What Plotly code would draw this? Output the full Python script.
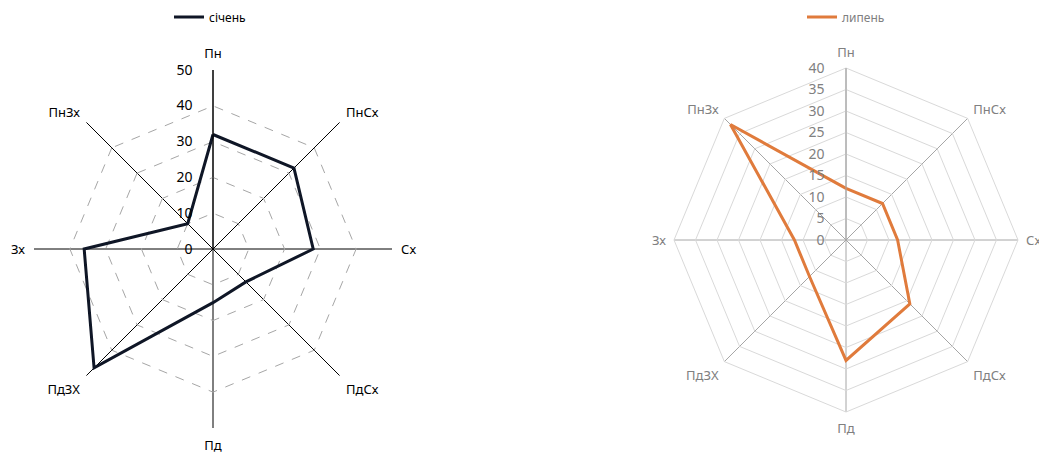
import plotly.graph_objects as go

directions = ["Пн", "ПнСх", "Сх", "ПдСх", "Пд", "ПдЗХ", "Зх", "ПнЗх"]
january = [32, 32, 28, 13, 15, 47, 36, 10]
july = [12, 12, 12, 21, 28, 12, 12, 38]
jan_ticks = [0, 10, 20, 30, 40, 50]
jul_ticks = [0, 5, 10, 15, 20, 25, 30, 35, 40]

W, H = 1039, 454
FONT = "Noto Sans"


def closed(values):
    return values + values[:1]


fig = go.Figure()
fig.add_trace(go.Scatterpolar(
    r=closed(january), theta=closed(directions), mode="lines",
    name="січень", line=dict(color="#0f1626", width=3),
    subplot="polar", legend="legend", hoverinfo="skip",
))
fig.add_trace(go.Scatterpolar(
    r=closed(july), theta=closed(directions), mode="lines",
    name="липень", line=dict(color="#e07b3c", width=3),
    subplot="polar2", legend="legend2", hoverinfo="skip",
))


def dom_x(cx, r):
    return [(cx - r) / W, (cx + r) / W]


def dom_y(cy, r):
    return [(H - cy - r) / H, (H - cy + r) / H]


fig.update_layout(
    width=W, height=H,
    margin=dict(l=0, r=0, t=0, b=0),
    paper_bgcolor="white",
    font=dict(family=FONT, size=12, color="#000000"),
    polar=dict(
        domain=dict(x=dom_x(213, 179), y=dom_y(249, 179)),
        bgcolor="white",
        gridshape="linear",
        radialaxis=dict(
            # tiny headroom so the outer dashed ring at 50 is drawn
            range=[0, 50.02], tickvals=jan_ticks, angle=90, side="counterclockwise",
            tickangle=90,
            showline=True, linecolor="#000000", linewidth=1,
            gridcolor="#a6a6a6", griddash="dash", gridwidth=1,
            ticks="outside", ticklen=15, tickcolor="rgba(0,0,0,0)",
            tickfont=dict(size=14, color="#000000", family=FONT),
        ),
        angularaxis=dict(
            direction="clockwise", rotation=90,
            showline=False, gridcolor="#000000", gridwidth=1,
            ticks="outside", ticklen=6, tickcolor="rgba(0,0,0,0)",
            tickfont=dict(size=13, color="#000000", family=FONT),
        ),
    ),
    polar2=dict(
        domain=dict(x=dom_x(846, 172), y=dom_y(240, 172)),
        bgcolor="white",
        gridshape="linear",
        radialaxis=dict(
            range=[0, 40], tickvals=jul_ticks, angle=90, side="counterclockwise",
            tickangle=90,
            showline=True, linecolor="#a6a6a6", linewidth=1,
            gridcolor="#d9d9d9", gridwidth=1,
            ticks="outside", ticklen=16, tickcolor="rgba(0,0,0,0)",
            tickfont=dict(size=14, color="#808080", family=FONT),
        ),
        angularaxis=dict(
            direction="clockwise", rotation=90,
            showline=True, linecolor="#d9d9d9", gridcolor="#a6a6a6", gridwidth=1,
            ticks="outside", ticklen=5, tickcolor="rgba(0,0,0,0)",
            tickfont=dict(size=13, color="#808080", family=FONT),
        ),
    ),
    legend=dict(
        x=210 / W, y=1 - 17 / H, xanchor="center", yanchor="middle",
        orientation="h", bgcolor="rgba(0,0,0,0)",
        font=dict(size=12, color="#000000", family=FONT),
        itemwidth=30,
    ),
    legend2=dict(
        x=846 / W, y=1 - 17 / H, xanchor="center", yanchor="middle",
        orientation="h", bgcolor="rgba(0,0,0,0)",
        font=dict(size=12, color="#808080", family=FONT),
        itemwidth=30,
    ),
    showlegend=True,
)

fig.write_html("out.html")
